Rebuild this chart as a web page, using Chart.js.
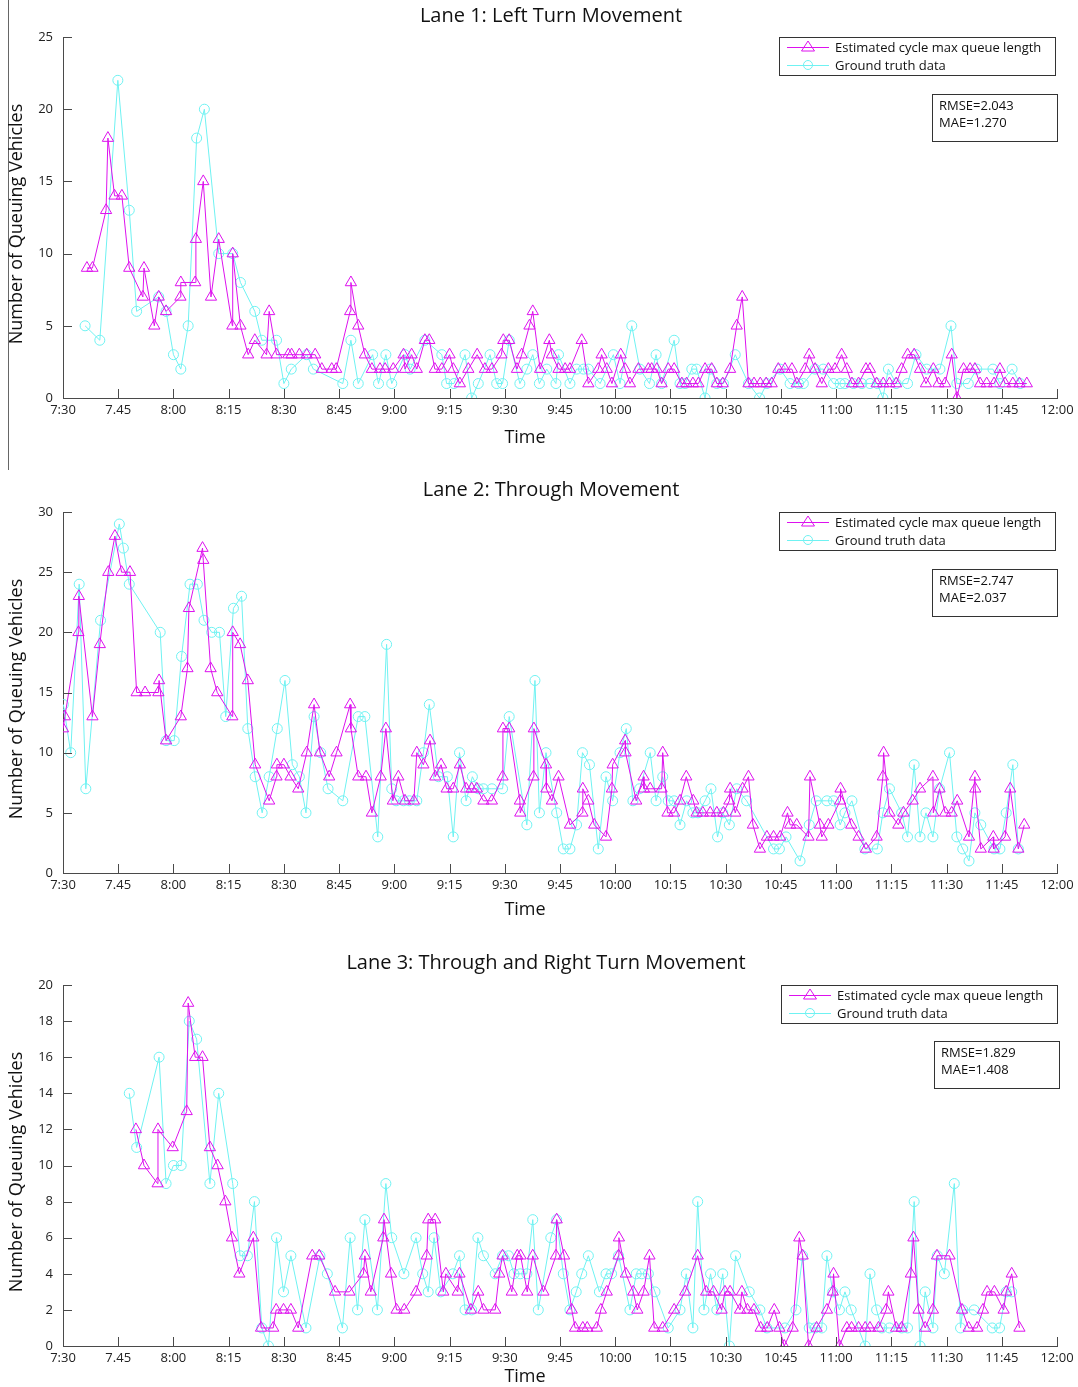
<!DOCTYPE html>
<html>
<head>
<meta charset="utf-8">
<script src="https://cdn.jsdelivr.net/npm/chart.js@4.4.1/dist/chart.umd.min.js"></script>
<style>
  html, body { margin: 0; padding: 0; background: #ffffff; }
  body { width: 1078px; height: 1387px; position: relative; overflow: hidden; }
  canvas { position: absolute; left: 0; }
  #stray { position: absolute; left: 8px; top: 0; width: 1px; height: 470px; background: #666; }
</style>
</head>
<body>
<div id="stray"></div>
<canvas id="c1" width="1078" height="475" style="top:0px"></canvas>
<canvas id="c2" width="1078" height="473" style="top:475px"></canvas>
<canvas id="c3" width="1078" height="439" style="top:948px"></canvas>
<script>
// ---- tick labels (minutes after 7:30, every 15 min) ----
const xTickLabels = ['7:30','7.45','8:00','8:15','8:30','8:45','9:00','9:15','9:30','9:45','10:00','10:15','10:30','10:45','11:00','11:15','11:30','11:45','12:00'];
const seriesNames = ['Estimated cycle max queue length', 'Ground truth data'];
const panelTitles = ['Lane 1: Left Turn Movement', 'Lane 2: Through Movement', 'Lane 3: Through and Right Turn Movement'];
const statsText = [['RMSE=2.043','MAE=1.270'], ['RMSE=2.747','MAE=2.037'], ['RMSE=1.829','MAE=1.408']];

// ---- Lane 1 ----  times in minutes after 7:30
const lane1EstT = [6.5,8,11.7,12.2,14,16,18,21.7,22,24.8,26,28,31.9,32,35.9,36.1,38.1,40.2,42.3,46,46.1,48.2,50.3,52.1,55.3,56,58,61.2,62.1,64.2,66.2,68.5,70.3,73,74.2,78,78.2,80.2,82,83.9,86.1,87.5,89.7,92.5,92.9,94.7,96.1,98.3,99.5,101,102.9,105,106,107.8,110.1,112.5,114.6,116.5,119.1,119.6,121.2,123.3,124.6,126.7,127.6,129.6,132.1,132.8,134.6,136.4,137.7,140.9,142.7,145.4,146.3,147.7,149.1,151.5,152.7,154,156.3,159,159.9,161.3,162.6,164.4,166,168.1,169.4,171.1,172.6,174.4,176.2,177.6,179.2,181.2,183,184.5,186.2,187.7,189.4,191,192.5,194.3,196.1,198,199.3,201.6,202.7,204.3,206.1,207.9,209.7,211.5,212.9,214.3,216.1,218.1,219.2,221,222.8,224.5,226.3,227.8,229.4,231.2,232.8,234.4,236.4,237.8,239.6,241.4,242.8,244.6,246.4,247.7,249.1,250.9,252.9,254.5,255.9,258,259.8,261.8];
const lane1EstV = [9,9,13,18,14,14,9,7,9,5,7,6,7,8,8,11,15,7,11,5,10,5,3,4,3,6,3,3,3,3,3,3,2,2,2,6,8,5,3,2,2,2,2,3,2,3,2,4,4,2,2,3,2,1,2,3,2,2,3,4,4,2,3,5,6,2,4,3,2,2,2,4,1,2,3,2,1,3,2,1,2,2,2,2,1,2,2,1,1,1,1,2,2,1,1,2,5,7,1,1,1,1,1,2,2,2,1,2,3,2,1,2,2,3,2,1,1,2,2,1,1,1,1,2,3,3,2,1,2,1,1,3,0,2,2,2,1,1,1,2,1,1,1,1];
const lane1GtT = [6,10,14.9,18,20,26,28,30,32,34,36.3,38.4,42.3,46.1,48.2,52.1,54,58,60,62,66.2,68,76,78.2,80.2,84.1,85.7,87.7,89.3,92.9,94.3,98.3,102.9,104.2,106.2,109.2,111,112.8,116,117.8,119.4,121.2,124.1,126,127.6,129.4,131.4,133.9,134.6,137.7,139.5,141.4,142.7,145.9,149.5,151.3,154.5,156.7,159.3,161.1,162.6,166,167.6,169,170.8,172.1,174.4,175.8,177.6,179.4,182.6,186.2,189.2,191.2,194.8,197.5,199.8,201.1,204.3,206.5,209.3,211.1,212.4,214.7,217,219.2,221.2,222.7,224.2,226.3,229.4,231.7,234.6,238.2,241.2,242.8,245.9,248.2,252.6,254.5,257.8,260];
const lane1GtV = [5,4,22,13,6,7,6,3,2,5,18,20,10,10,8,6,4,4,1,2,3,2,1,4,1,3,1,3,1,3,2,4,3,1,1,3,0,1,3,1,1,4,1,2,3,1,2,1,3,1,2,2,2,1,3,1,5,2,1,3,1,4,1,1,2,2,0,2,1,1,3,1,0,1,2,1,1,1,2,2,1,1,1,1,1,1,1,0,2,1,1,3,2,2,5,1,1,2,2,1,2,1];

// ---- Lane 2 ----
const lane2EstT = [0,0.5,4.2,4.3,8,10,12.3,14.1,15.9,18.2,20,22.3,25.9,26.1,28,32,33.8,34.2,37.9,38.1,40.1,41.9,46,46.1,48.1,50.2,52.2,56,58,58.1,60,61.8,63.9,66.2,68.2,69.8,72.3,74.3,78,78.2,80.2,82.3,83.9,86.3,87.7,89.6,91.1,92.9,95.3,96.1,97.9,99.7,101.1,102.7,104.2,106,107.8,109.5,111,112.4,114.2,116.5,119.4,119.5,121.2,124.1,124.2,127.8,127.9,131.2,131.3,132.8,134.6,137.7,141.1,141.2,142.7,144.3,147.5,149.1,149.3,152.7,152.8,155.7,157.7,157.8,159.5,162.6,162.9,164.2,166,167.6,169.3,171.2,172.1,173.8,175.8,177.6,179.4,181,181.2,182.6,184.6,186.2,187.4,189.3,191.2,193,194.8,196.8,197.5,199.3,202.5,202.9,205.6,206.1,207.9,211.1,211.2,214.1,216.1,218.1,221,222.7,222.9,224.5,226.9,228.3,230.8,232.8,236.3,236.4,238.1,239.6,241.4,242.9,246.1,247.7,247.8,249.3,252.7,252.8,255.9,257.3,259.5,261.1];
const lane2EstV = [12,13,20,23,13,19,25,28,25,25,15,15,15,16,11,13,17,22,27,26,17,15,13,20,19,16,9,6,8,9,9,8,7,10,14,10,8,10,14,12,8,8,5,8,12,6,8,6,6,10,9,11,8,9,7,7,9,7,7,7,6,6,8,12,12,6,5,8,12,9,7,6,8,4,5,7,6,4,3,7,9,11,10,6,8,7,7,7,10,5,5,6,8,6,5,5,5,5,5,6,7,5,7,8,4,2,3,3,3,5,4,4,3,8,4,3,4,6,7,4,3,2,3,8,10,5,4,5,6,7,8,5,7,5,5,6,3,8,7,2,3,2,3,7,2,4];
const lane2GtT = [0.1,2.1,4.4,6.2,10.2,15.3,16.4,18,26.4,28,30.2,32.2,34.5,36.5,38.3,40.4,42.5,44.2,46.3,48.5,50.2,52.2,54.1,56,58.2,60.3,62.3,64.2,66,68.2,70,72,76,80.2,82,85.5,87.9,89.3,90.5,92.5,94.1,96.1,97.9,99.5,102,104.4,106,107.7,109.5,111.2,112.8,114.2,116.5,119.4,121.2,126,128.2,129.4,131.2,134.1,135.9,137.7,139.5,141.1,143,145.4,147.5,149.3,151.3,153,154.8,156.6,159.5,161.1,162.9,164.4,166,167.6,169.4,171.1,172.5,174.4,176,177.8,179.2,181,183,185.7,193,194.6,196.4,200.2,202.7,204.6,207.5,209.3,211.1,212.4,214.3,217.8,221.2,222.7,224.5,227.8,229.4,231.2,232.8,234.4,236.3,238.1,240.8,242.8,244.4,246.1,247.7,249.3,252.9,254.5,256.2,258,259.5];
const lane2GtV = [14,10,24,7,21,29,27,24,20,11,11,18,24,24,21,20,20,13,22,23,12,8,5,8,12,16,9,8,5,13,10,7,6,13,13,3,19,7,6,6,6,6,10,14,8,8,3,10,6,8,7,7,7,7,13,4,16,5,10,5,2,2,4,10,9,2,8,6,10,12,6,7,10,6,8,6,6,4,6,5,5,6,7,3,5,4,7,6,2,2,3,1,4,6,6,6,4,5,6,2,2,5,7,5,3,9,3,5,3,7,10,3,2,1,5,4,2,2,5,9,2];

// ---- Lane 3 ----
const lane3EstT = [19.8,22,25.7,25.8,29.8,33.6,34,35.9,37.9,39.9,42,44.1,45.9,47.9,51.7,53.8,57.1,57.9,59.9,61.9,63.9,67.7,69.6,73.9,77.8,81.6,82,83.6,87,87.2,89.1,90.6,92.7,95.9,98.8,99.2,101.1,103.3,104,107.2,107.7,110.8,112.8,114.2,117.4,118.5,119.4,121.9,123.4,124.3,126.1,127.6,130.5,133.9,134.1,136.1,138.2,139.1,141.2,142.4,145,146.1,147.7,150.9,151,152.9,154.9,156,157.7,159.3,160.6,162.9,166,169,172.4,174.7,176.7,178.9,179.8,181.2,183.9,184.4,185.9,187.7,189.5,191.3,193.2,194.6,195.9,198.2,200,200.9,202.5,204.7,207.5,209.1,209.3,210.9,212.9,214.2,216.1,217.9,219.2,221.5,223.6,224.2,226.3,227.8,230.3,231,232.4,234.2,236.3,237.4,240.8,244.2,246,248.3,249.9,251,253,255.5,256.2,257.7,259.8];
const lane3EstV = [12,10,9,12,11,13,19,16,16,11,10,8,6,4,6,1,1,2,2,2,1,5,5,3,3,4,5,3,6,7,4,2,2,3,5,7,7,3,4,3,4,2,3,2,2,4,5,3,5,5,3,5,3,5,7,5,2,1,1,1,1,2,3,5,6,4,3,2,3,5,1,1,2,3,5,3,3,2,3,3,2,3,2,2,1,1,2,1,0,1,6,5,0,1,2,3,4,0,1,1,1,1,1,1,2,3,1,1,4,6,2,1,2,5,5,2,1,1,2,3,3,2,3,4,1];
const lane3GtT = [18,20,26.1,28,30,32.1,34.3,36.3,39.9,42.3,46.1,48.1,50.1,52,54,55.8,58,59.9,61.9,66,69.8,71.8,75.9,78,80,82,85.4,87.7,89.3,92.6,95.9,97.7,99.2,100.8,102.6,105.9,107.7,109.2,111,112.7,114.2,117.4,119.4,121,122.5,124.2,126,127.6,129.1,132.5,134.1,135.9,137.7,139.4,140.9,142.7,145.7,147.5,149,150.9,154,155.7,157.2,159,160.8,164.4,167.6,169.3,171.1,172.4,174.1,175.9,177.6,179.2,181,182.7,186.4,189.3,191.2,196.1,199.1,200.9,202.7,204.3,206.1,207.5,209.1,210.9,212.4,214.1,217.9,219.2,221,222.4,224.5,227.8,229.4,231.2,232.8,234.2,236.3,237.5,239.4,242.1,243.8,244.4,247.5,252.4,254.4,256.2,257.7];
const lane3GtV = [14,11,16,9,10,10,18,17,9,14,9,5,5,8,1,0,6,3,5,1,5,4,1,6,2,7,2,9,6,4,6,4,3,6,3,4,5,2,2,6,5,4,5,5,4,4,4,7,2,6,7,4,2,3,4,5,3,4,4,5,2,4,4,4,3,1,2,4,1,8,2,4,2,4,0,5,3,2,1,1,2,5,1,1,1,5,3,2,3,2,0,4,2,1,1,1,1,8,0,3,1,5,4,9,1,2,2,1,1,3,3];

const yMax = [25, 30, 20];
const yStep = [5, 5, 2];

const MAGENTA = '#dd11ee';
const CYAN = '#6ff2f2';
const FONT = '"Open Sans", "DejaVu Sans", sans-serif';
const AXIS = '#4a4a4a';

function pts(t, v) { return t.map((x, i) => ({ x: x, y: v[i] })); }

const decoPlugin = {
  id: 'deco',
  afterDraw(chart, args, o) {
    const ctx = chart.ctx, a = chart.chartArea, xs = chart.scales.x, ys = chart.scales.y;
    ctx.save();
    ctx.strokeStyle = AXIS; ctx.lineWidth = 1;
    // inward tick marks
    ctx.beginPath();
    xs.ticks.forEach(t => {
      const px = Math.round(xs.getPixelForValue(t.value)) + 0.5;
      ctx.moveTo(px, a.bottom); ctx.lineTo(px, a.bottom - 9);
    });
    ys.ticks.forEach(t => {
      const py = Math.round(ys.getPixelForValue(t.value)) + 0.5;
      ctx.moveTo(a.left, py); ctx.lineTo(a.left + 9, py);
    });
    ctx.stroke();
    // title
    ctx.fillStyle = '#111';
    ctx.textAlign = 'center'; ctx.textBaseline = 'middle';
    ctx.font = '20px ' + FONT;
    ctx.fillText(o.title, o.titleX, o.titleY);
    // x title
    ctx.font = '18px ' + FONT;
    ctx.fillText('Time', 525, o.xTitleY);
    // y title
    ctx.save();
    ctx.translate(17, 224);
    ctx.rotate(-Math.PI / 2);
    ctx.fillText('Number of Queuing Vehicles', 0, 0);
    ctx.restore();
    // legend box
    const L = o.legendX, T = 37;
    ctx.fillStyle = '#fff';
    ctx.fillRect(L + 0.5, T + 0.5, 276, 38);
    ctx.strokeStyle = '#333';
    ctx.strokeRect(L + 0.5, T + 0.5, 276, 38);
    const rows = [[MAGENTA, 'triangle', 47], [CYAN, 'circle', 65]];
    rows.forEach((r, i) => {
      ctx.strokeStyle = r[0]; ctx.lineWidth = 1;
      ctx.beginPath(); ctx.moveTo(L + 8, r[2] + 0.5); ctx.lineTo(L + 50, r[2] + 0.5); ctx.stroke();
      const cx = L + 29, cy = r[2];
      ctx.beginPath();
      if (r[1] === 'triangle') {
        ctx.moveTo(cx, cy - 6); ctx.lineTo(cx + 6.5, cy + 4); ctx.lineTo(cx - 6.5, cy + 4); ctx.closePath();
      } else {
        ctx.arc(cx, cy, 4.5, 0, Math.PI * 2);
      }
      ctx.stroke();
      ctx.fillStyle = '#111';
      ctx.textAlign = 'left'; ctx.textBaseline = 'middle';
      ctx.font = '13px ' + FONT;
      ctx.fillText(seriesNames[i], L + 56, r[2] + 1);
    });
    // stats box
    const SL = o.statsX, ST = o.statsY;
    ctx.fillStyle = '#fff';
    ctx.fillRect(SL + 0.5, ST + 0.5, 125, 47);
    ctx.strokeStyle = '#333';
    ctx.strokeRect(SL + 0.5, ST + 0.5, 125, 47);
    ctx.fillStyle = '#111';
    ctx.font = '13px ' + FONT;
    ctx.fillText(o.stats[0], SL + 7, ST + 12);
    ctx.fillText(o.stats[1], SL + 7, ST + 29);
    ctx.restore();
  }
};

function makeChart(id, idx, est, gt, canvasH, deco) {
  const el = document.getElementById(id);
  return new Chart(el, {
    type: 'line',
    data: {
      datasets: [
        {
          label: seriesNames[0], data: est,
          borderColor: MAGENTA, borderWidth: 1, backgroundColor: 'rgba(0,0,0,0)',
          pointStyle: 'triangle', pointRadius: 6.5, pointBorderWidth: 1,
          pointBorderColor: MAGENTA, pointBackgroundColor: 'rgba(0,0,0,0)', tension: 0
        },
        {
          label: seriesNames[1], data: gt,
          borderColor: CYAN, borderWidth: 1, backgroundColor: 'rgba(0,0,0,0)',
          pointStyle: 'circle', pointRadius: 5, pointBorderWidth: 1,
          pointBorderColor: CYAN, pointBackgroundColor: 'rgba(0,0,0,0)', tension: 0
        }
      ]
    },
    options: {
      responsive: false, animation: false, devicePixelRatio: 1,
      layout: { padding: { top: 37, right: 21, left: 0, bottom: 0 } },
      plugins: { legend: { display: false }, title: { display: false }, tooltip: { enabled: false }, deco: deco },
      scales: {
        x: {
          type: 'linear', min: 0, max: 270,
          grid: { display: false, drawTicks: false, tickLength: 0 },
          border: { display: true, color: AXIS, width: 1 },
          ticks: {
            stepSize: 15, autoSkip: false, maxRotation: 0, padding: 4,
            color: '#222', font: { size: 13, family: FONT },
            callback: (v) => xTickLabels[Math.round(v / 15)]
          },
          afterFit: (s) => { s.height = canvasH - 398; }
        },
        y: {
          min: 0, max: yMax[idx],
          grid: { display: false, drawTicks: false, tickLength: 0 },
          border: { display: true, color: AXIS, width: 1 },
          ticks: { stepSize: yStep[idx], padding: 10, color: '#222', font: { size: 13, family: FONT } },
          afterFit: (s) => { s.width = 63; }
        }
      }
    },
    plugins: [decoPlugin]
  });
}

makeChart('c1', 0, pts(lane1EstT, lane1EstV), pts(lane1GtT, lane1GtV), 475,
  { title: panelTitles[0], titleX: 551, titleY: 16, xTitleY: 438, legendX: 779, statsX: 932, statsY: 94, stats: statsText[0] });
makeChart('c2', 1, pts(lane2EstT, lane2EstV), pts(lane2GtT, lane2GtV), 473,
  { title: panelTitles[1], titleX: 551, titleY: 15, xTitleY: 435, legendX: 779, statsX: 932, statsY: 94, stats: statsText[1] });
makeChart('c3', 2, pts(lane3EstT, lane3EstV), pts(lane3GtT, lane3GtV), 439,
  { title: panelTitles[2], titleX: 546, titleY: 15, xTitleY: 429, legendX: 781, statsX: 934, statsY: 93, stats: statsText[2] });
</script>
</body>
</html>
